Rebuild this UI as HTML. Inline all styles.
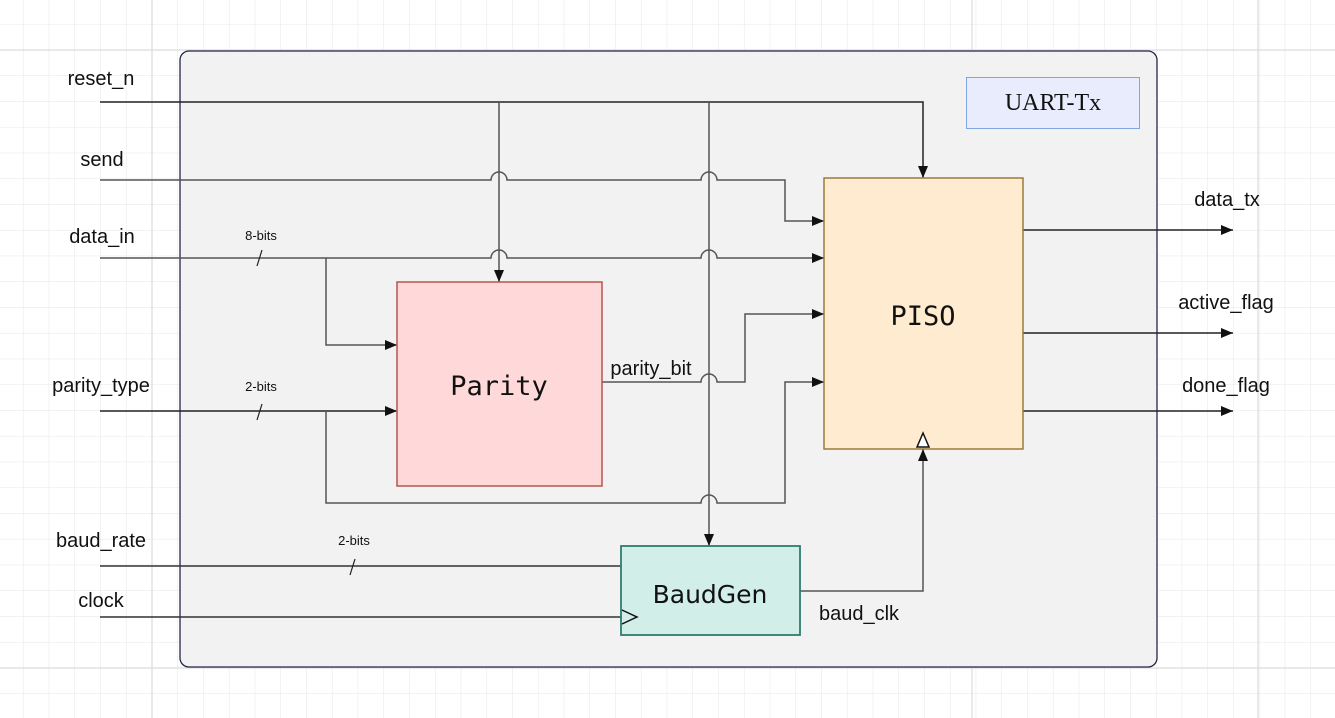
<!DOCTYPE html>
<html><head><meta charset="utf-8"><style>
html,body{margin:0;padding:0;background:#fff;}
svg{display:block;}
text{font-family:"Liberation Sans",sans-serif;fill:#111;}
</style></head><body>
<svg width="1335" height="718" viewBox="0 0 1335 718" xmlns="http://www.w3.org/2000/svg">
<defs>
<pattern id="g" x="-2.8" y="-1.8" width="25.75" height="25.75" patternUnits="userSpaceOnUse">
<path d="M0 0 H25.75 M0 0 V25.75" stroke="#e6e6e6" stroke-width="1" fill="none"/>
</pattern>
<marker id="a" viewBox="0 0 12 12" refX="12" refY="6" markerWidth="12" markerHeight="12" markerUnits="userSpaceOnUse" orient="auto">
<path d="M0 1 L12 6 L0 11 Z" fill="#111"/>
</marker>
</defs>
<rect width="1335" height="718" fill="#fff"/>
<rect width="1335" height="718" fill="url(#g)"/>
<path d="M152 0V718 M972 0V718 M1258 0V718 M0 668H1335 M0 50H1335" stroke="#dcdcdc" stroke-width="1.2"/>
<rect x="180" y="51" width="977" height="616" rx="9" fill="#f2f2f2" stroke="#23264a" stroke-width="1.3"/>
<rect x="966.5" y="77.5" width="173" height="51" fill="#e8ecfc" stroke="#7ea6e0"/>
<text x="1053" y="110" text-anchor="middle" style="font-family:'Liberation Serif',serif;font-size:24px">UART-Tx</text>

<g fill="none" stroke="#555" stroke-width="1.5">
<path d="M100 102 H923 V178" stroke="#222" marker-end="url(#a)"/>
<path d="M499 102 V282" marker-end="url(#a)"/>
<path d="M709 102 V546" marker-end="url(#a)"/>
<path d="M100 180 H491 a8 8 0 0 1 16 0 H701 a8 8 0 0 1 16 0 H785 V221 H824" marker-end="url(#a)"/>
<path d="M100 258 H491 a8 8 0 0 1 16 0 H701 a8 8 0 0 1 16 0 H824" marker-end="url(#a)"/>
<path d="M326 258 V345 H397" marker-end="url(#a)"/>
<path d="M100 411 H397" stroke="#222" marker-end="url(#a)"/>
<path d="M326 411 V503 H701 a8 8 0 0 1 16 0 H785 V382 H824" marker-end="url(#a)"/>
<path d="M602 382 H701 a8 8 0 0 1 16 0 H745 V314 H824" marker-end="url(#a)"/>
<path d="M100 566 H621" stroke="#333"/>
<path d="M100 617 H621" stroke="#333"/>
<path d="M800 591 H923 V449" marker-end="url(#a)"/>
<path d="M1023 230 H1233" stroke="#222" marker-end="url(#a)"/>
<path d="M1023 333 H1233" stroke="#222" marker-end="url(#a)"/>
<path d="M1023 411 H1233" stroke="#222" marker-end="url(#a)"/>
</g>
<g stroke="#222" stroke-width="1.2">
<path d="M257 266 L262 250"/><path d="M257 420 L262 404"/><path d="M350 575 L355 559"/>
</g>

<rect x="397" y="282" width="205" height="204" fill="#ffd9d9" stroke="#b85450" stroke-width="1.5"/>
<text x="499" y="395" text-anchor="middle" style="font-family:'DejaVu Sans Mono',monospace;font-size:27px">Parity</text>
<rect x="824" y="178" width="199" height="271" fill="#ffebcf" stroke="#9c7a3a" stroke-width="1.5"/>
<text x="923" y="325" text-anchor="middle" style="font-family:'DejaVu Sans Mono',monospace;font-size:27px">PISO</text>
<path d="M917 447 L923 433 L929 447 Z" fill="#fff" stroke="#111" stroke-width="1.5"/>
<rect x="621" y="546" width="179" height="89" fill="#d1efe8" stroke="#2e7d6e" stroke-width="1.8"/>
<text x="710" y="603" text-anchor="middle" style="font-family:'DejaVu Sans',sans-serif;font-size:25px">BaudGen</text>
<path d="M622 610 L637 617 L622 624" fill="none" stroke="#111" stroke-width="1.5"/>

<g font-size="20">
<text x="101" y="85" text-anchor="middle">reset_n</text>
<text x="102" y="166" text-anchor="middle">send</text>
<text x="102" y="243" text-anchor="middle">data_in</text>
<text x="101" y="392" text-anchor="middle">parity_type</text>
<text x="101" y="547" text-anchor="middle">baud_rate</text>
<text x="101" y="607" text-anchor="middle">clock</text>
<text x="651" y="375" text-anchor="middle">parity_bit</text>
<text x="859" y="620" text-anchor="middle">baud_clk</text>
<text x="1227" y="206" text-anchor="middle">data_tx</text>
<text x="1226" y="309" text-anchor="middle">active_flag</text>
<text x="1226" y="392" text-anchor="middle">done_flag</text>
</g>
<g font-size="13">
<text x="261" y="240" text-anchor="middle">8-bits</text>
<text x="261" y="391" text-anchor="middle">2-bits</text>
<text x="354" y="545" text-anchor="middle">2-bits</text>
</g>
</svg>
</body></html>
